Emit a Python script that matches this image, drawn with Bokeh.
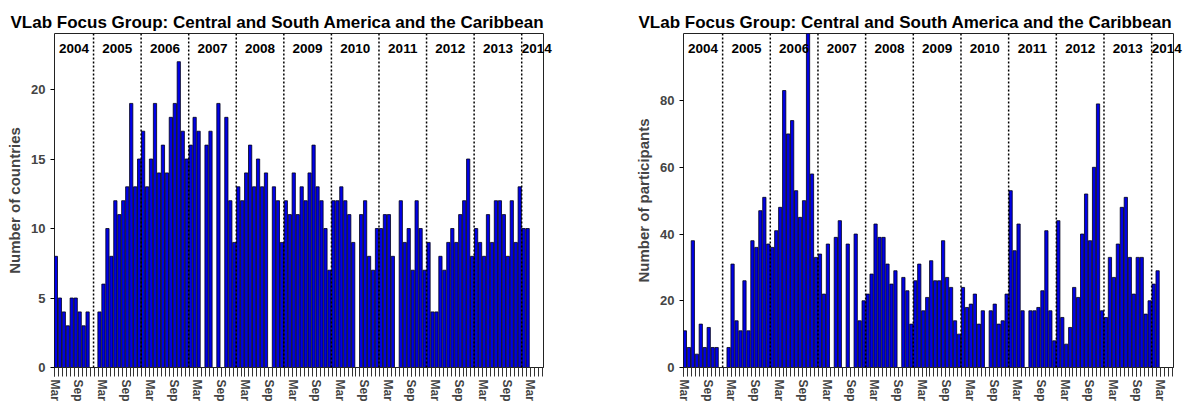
from bokeh.plotting import figure
from bokeh.models import Range1d, LinearAxis, FixedTicker, Span, ColumnDataSource, Grid
from bokeh.layouts import row
from bokeh.embed import file_html
from bokeh.resources import INLINE

title_text = "VLab Focus Group: Central and South America and the Caribbean"
years = list(range(2004, 2015))
month_names = ["Jan", "Feb", "Mar", "Apr", "May", "Jun", "Jul", "Aug", "Sep", "Oct", "Nov", "Dec"]
labelled_months = ["Mar", "Sep"]
first_month = 3          # series starts March 2004
axis_months = 124        # axis runs Mar 2004 .. Jun 2014

# monthly values, Mar 2004 .. Feb 2014
countries = [
    8, 5, 4, 3, 5, 5, 4, 3, 4, 0,
    0, 4, 6, 10, 8, 12, 11, 12, 13, 19, 13, 15,
    17, 13, 15, 19, 14, 16, 14, 18, 19, 22, 17, 15,
    16, 18, 17, 0, 16, 17, 0, 19, 0, 18, 12, 9,
    13, 12, 14, 16, 13, 15, 13, 14, 0, 13, 12, 9,
    12, 11, 14, 11, 13, 12, 14, 16, 13, 12, 10, 7,
    12, 12, 13, 12, 11, 9, 0, 11, 12, 8, 7, 10,
    10, 11, 11, 8, 0, 12, 9, 10, 7, 12, 10, 7,
    9, 4, 4, 8, 7, 9, 10, 9, 11, 12, 15, 8,
    10, 9, 8, 11, 9, 12, 12, 11, 8, 12, 9, 13,
    10, 10,
]
participants = [
    11, 6, 38, 4, 13, 6, 12, 6, 6, 0,
    0, 6, 31, 14, 11, 26, 11, 38, 36, 47, 51, 37,
    36, 41, 48, 83, 70, 74, 53, 45, 50, 102, 58, 33,
    34, 22, 37, 0, 39, 44, 0, 37, 0, 40, 14, 20,
    22, 28, 43, 39, 39, 31, 25, 29, 0, 27, 23, 13,
    26, 31, 17, 21, 32, 26, 26, 38, 27, 24, 14, 10,
    24, 18, 19, 22, 13, 17, 0, 17, 19, 13, 14, 22,
    53, 35, 43, 17, 0, 17, 17, 18, 23, 41, 17, 8,
    44, 15, 7, 12, 24, 21, 40, 52, 38, 60, 79, 17,
    15, 33, 27, 37, 48, 51, 33, 22, 33, 33, 16, 20,
    25, 29,
]

FONT = "Liberation Sans"
X_START, X_END = -0.35, 123.0
LABEL_SHIFT = 0.3

month_of = [month_names[(first_month - 1 + k) % 12] for k in range(axis_months)]
label_ticks = [k for k in range(axis_months) if month_of[k] in labelled_months]
year_bounds = [k - 0.5 for k in range(axis_months) if month_of[k] == "Jan"]


def year_centres():
    edges = [X_START] + year_bounds + [year_bounds[-1] + 7.6]
    return [round((edges[i] + edges[i + 1]) / 2, 2) for i in range(len(years))]


def make_panel(values, ylabel, y_max, y_ticks, width, left, right, title_offset):
    p = figure(width=width, height=406,
               x_range=Range1d(X_START, X_END), y_range=Range1d(0, y_max),
               output_backend="svg", toolbar_location=None,
               x_axis_location=None, y_axis_location=None,
               min_border_left=left, min_border_right=right,
               min_border_top=33, min_border_bottom=39)
    for r in list(p.center):
        if isinstance(r, Grid):
            r.visible = False
    p.background_fill_color = "white"
    p.border_fill_color = "white"
    p.outline_line_color = "#222222"
    p.outline_line_width = 1

    p.title.text = title_text
    p.title.text_font = FONT
    p.title.text_font_size = "17px"
    p.title.text_font_style = "bold"
    p.title.text_color = "black"
    p.title.offset = title_offset
    p.title.standoff = 4

    src = ColumnDataSource(dict(x=list(range(len(values))), top=values))
    p.vbar(x="x", top="top", bottom=0, width=0.82, source=src,
           fill_color="#0000E6", line_color="#000018", line_width=0.8)

    for b in year_bounds:
        p.add_layout(Span(location=b, dimension="height", line_color="black",
                          line_dash="2 2", line_width=1.5))

    centres = year_centres()
    year_axis = LinearAxis(ticker=FixedTicker(ticks=centres, minor_ticks=[]),
                           major_label_overrides={c: str(y) for c, y in zip(centres, years)},
                           major_label_text_font=FONT, major_label_text_font_size="13.5px",
                           major_label_text_font_style="bold", major_label_text_color="black",
                           major_label_standoff=-19,
                           major_tick_out=0, major_tick_in=0, major_tick_line_color=None,
                           minor_tick_line_color=None, axis_line_color=None)
    p.add_layout(year_axis, "above")

    yaxis = LinearAxis(ticker=FixedTicker(ticks=y_ticks), axis_label=ylabel,
                       axis_label_text_font=FONT, axis_label_text_font_size="15px",
                       axis_label_text_font_style="bold", axis_label_standoff=5,
                       major_label_text_font=FONT, major_label_text_font_size="13px",
                       major_label_text_font_style="bold", major_label_standoff=5,
                       major_tick_out=4, major_tick_in=0, axis_line_color=None,
                       minor_tick_line_color=None)
    p.add_layout(yaxis, "left")

    p.extra_x_ranges = {"lab": Range1d(X_START + LABEL_SHIFT, X_END + LABEL_SHIFT)}
    xaxis = LinearAxis(x_range_name="lab",
                       ticker=FixedTicker(ticks=label_ticks, minor_ticks=list(range(axis_months))),
                       major_label_overrides={k: month_of[k] for k in label_ticks},
                       major_label_orientation="vertical",
                       major_label_text_font=FONT, major_label_text_font_size="12px",
                       major_label_text_font_style="bold", major_label_standoff=3,
                       major_tick_out=9, major_tick_in=0, major_tick_line_color="#333333",
                       minor_tick_out=9, minor_tick_in=0, minor_tick_line_color="#333333",
                       axis_line_color="#222222")
    p.add_layout(xaxis, "below")
    return p


p1 = make_panel(countries, "Number of countries", 24.03, [0, 5, 10, 15, 20],
                606, 54, 63, -44)
p2 = make_panel(participants, "Number of participants", 100.1, [0, 20, 40, 60, 80],
                584, 77, 17, -45)

layout = row(p1, p2)
open("out.html", "w").write(file_html(layout, INLINE))
